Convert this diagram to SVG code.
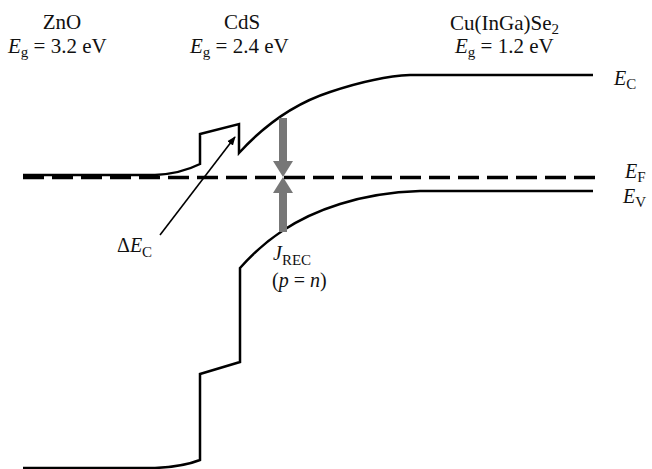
<svg xmlns="http://www.w3.org/2000/svg" width="652" height="469" viewBox="0 0 652 469" font-family="'Liberation Serif', 'DejaVu Serif', serif">
<style>
.t{font-family:'Liberation Serif','DejaVu Serif',serif;font-size:21px;fill:#111}
.r{font-size:20px}
.i{font-style:italic}
.s{font-size:15px}
.band{fill:none;stroke:#000;stroke-width:2.5;stroke-linejoin:miter}
.ef{fill:none;stroke:#000;stroke-width:3.5;stroke-dasharray:21 8}
.g{fill:#777;stroke:none}
</style>
<defs>
<marker id="ah" viewBox="0 0 10 10" refX="9" refY="5" markerWidth="9" markerHeight="9" orient="auto" markerUnits="userSpaceOnUse">
<path d="M0,1 L10,5 L0,9 Z" fill="#000"/>
</marker>
</defs>
<g id="labels">
<text class="t" x="62" y="29" text-anchor="middle">ZnO</text>
<text class="t" x="8" y="53"><tspan class="i">E</tspan><tspan class="s" dy="4">g</tspan><tspan dy="-4"> = 3.2 eV</tspan></text>
<text class="t" x="242" y="29" text-anchor="middle">CdS</text>
<text class="t" x="190" y="53"><tspan class="i">E</tspan><tspan class="s" dy="4">g</tspan><tspan dy="-4"> = 2.4 eV</tspan></text>
<text class="t" x="450" y="30">Cu(InGa)Se<tspan class="s" dy="4">2</tspan></text>
<text class="t" x="455" y="53"><tspan class="i">E</tspan><tspan class="s" dy="4">g</tspan><tspan dy="-4"> = 1.2 eV</tspan></text>
</g>
<g id="Ec">
<path class="band" d="M23,175 L155,175 C175,174 190,169 200,164 L200,134 L239,124 L239,153 C260,130 290,105 330,92 C360,82 385,76 410,75 L593,75"/>
<text class="t r" x="614" y="85"><tspan class="i">E</tspan><tspan class="s" dy="4">C</tspan></text>
</g>
<g id="Ef">
<path class="ef" d="M23,177.5 L595,177.5"/>
<text class="t r" x="625" y="178"><tspan class="i">E</tspan><tspan class="s" dy="4">F</tspan></text>
</g>
<g id="Ev">
<path class="band" d="M23,468 L155,468 C175,467 190,464 200,460 L200,374 L240,362 L240,268 C265,240 295,218 340,204 C365,196 390,192 420,191 L593,191"/>
<text class="t r" x="623" y="203"><tspan class="i">E</tspan><tspan class="s" dy="4">V</tspan></text>
</g>
<g id="connectors">
<line x1="160" y1="235" x2="235" y2="137" stroke="#000" stroke-width="1.6" marker-end="url(#ah)"/>
<path class="g" d="M279,118 L287,118 L287,161 L293,161 L283,177 L273,161 L279,161 Z"/>
<path class="g" d="M279,232 L287,232 L287,193 L293,193 L283,177 L273,193 L279,193 Z"/>
</g>
<g id="dEc">
<text class="t r" x="117" y="252">Δ<tspan class="i">E</tspan><tspan class="s" dy="5">C</tspan></text>
</g>
<g id="Jrec">
<text class="t r" x="273" y="260"><tspan class="i">J</tspan><tspan class="s" dy="5">REC</tspan></text>
<text class="t r" x="272" y="287">(<tspan class="i">p</tspan> = <tspan class="i">n</tspan>)</text>
</g>
</svg>
